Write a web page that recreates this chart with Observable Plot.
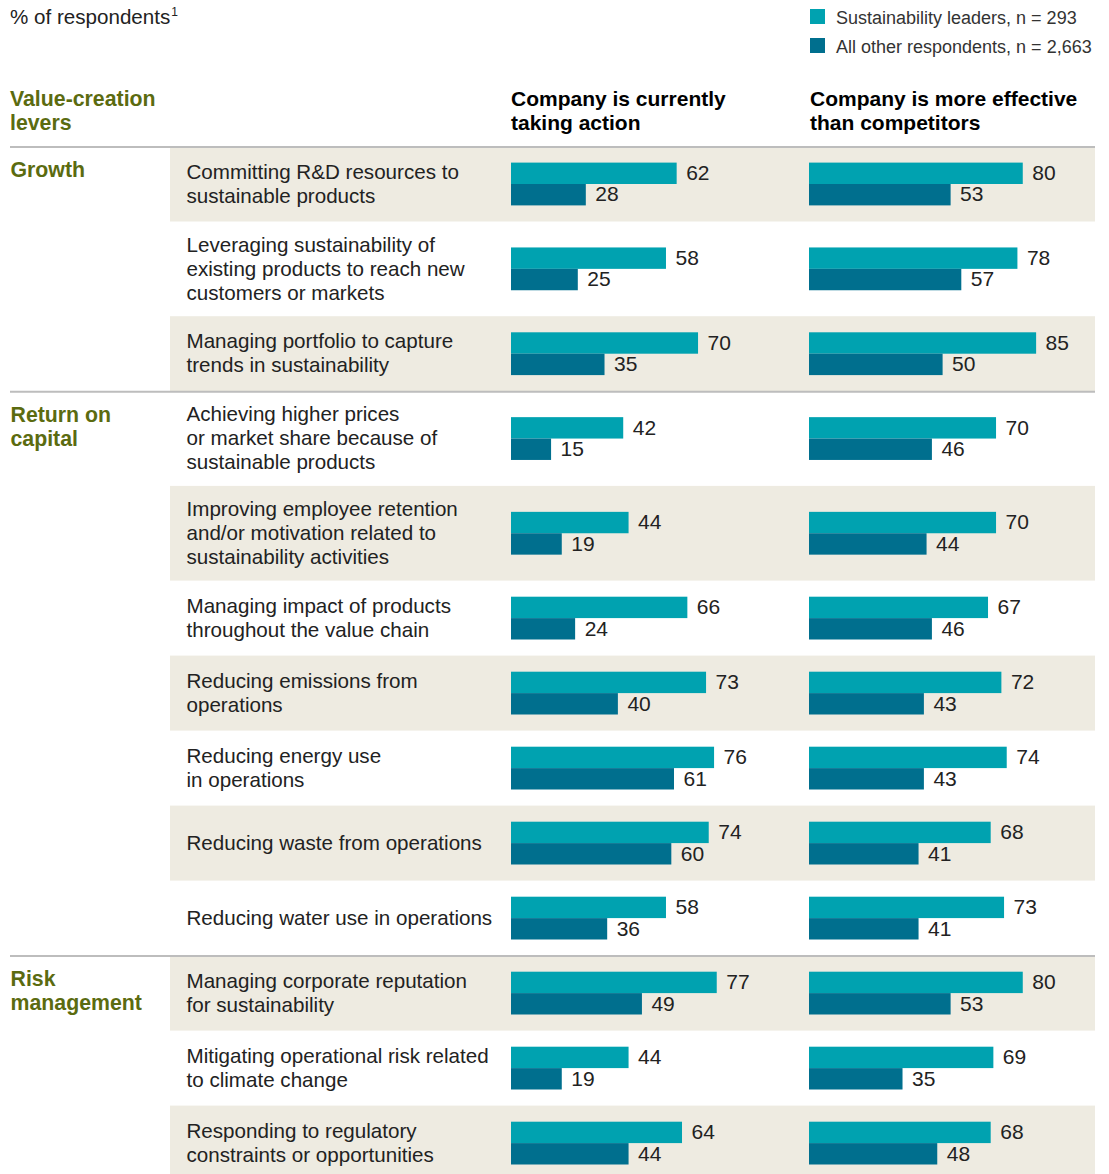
<!DOCTYPE html>
<html>
<head>
<meta charset="utf-8">
<script src="https://cdn.jsdelivr.net/npm/d3@7"></script>
<script src="https://cdn.jsdelivr.net/npm/@observablehq/plot@0.6"></script>
<style>
  html, body { margin: 0; padding: 0; background: #fff; }
  body { width: 1109px; font-family: "Helvetica Neue", Helvetica, "Liberation Sans", Arial, sans-serif; color: #222; }
  #head { position: relative; width: 1109px; height: 146px; }
  #head div { position: absolute; white-space: nowrap; }
  .unit { left: 10px; top: 5px; font-size: 20.6px; line-height: 24px; color: #222; }
  .unit sup { font-size: 12px; vertical-align: 0; position: relative; top: -8px; margin-left: 1px; }
  .lev { left: 10px; top: 87px; font-size: 21.3px; line-height: 24px; font-weight: bold; color: #5b6b10; }
  .col { top: 87px; font-size: 21px; line-height: 24px; font-weight: bold; color: #000; }
  .sw { width: 15px; height: 15px; }
  .lt { font-size: 18px; line-height: 24px; color: #333; }
  #chart svg { display: block; }
</style>
</head>
<body>
<div id="head"></div>
<div id="chart"></div>
<script>
// ---- data ----
const levers = [
  "Committing R&D resources to\nsustainable products",
  "Leveraging sustainability of\nexisting products to reach new\ncustomers or markets",
  "Managing portfolio to capture\ntrends in sustainability",
  "Achieving higher prices\nor market share because of\nsustainable products",
  "Improving employee retention\nand/or motivation related to\nsustainability activities",
  "Managing impact of products\nthroughout the value chain",
  "Reducing emissions from\noperations",
  "Reducing energy use\nin operations",
  "Reducing waste from operations",
  "Reducing water use in operations",
  "Managing corporate reputation\nfor sustainability",
  "Mitigating operational risk related\nto climate change",
  "Responding to regulatory\nconstraints or opportunities"
];
const groupNames = ["Growth", "Return on\ncapital", "Risk\nmanagement"];
const groupOfLever = [0, 0, 0, 1, 1, 1, 1, 1, 1, 1, 2, 2, 2];
const leadersAction    = [62, 58, 70, 42, 44, 66, 73, 76, 74, 58, 77, 44, 64];
const othersAction     = [28, 25, 35, 15, 19, 24, 40, 61, 60, 36, 49, 19, 44];
const leadersEffective = [80, 78, 85, 70, 70, 67, 72, 74, 68, 73, 80, 69, 68];
const othersEffective  = [53, 57, 50, 46, 44, 46, 43, 43, 41, 41, 53, 35, 48];
const columnTitles = ["Company is currently\ntaking action", "Company is more effective\nthan competitors"];
const seriesNames = ["Sustainability leaders, n = 293", "All other respondents, n = 2,663"];
const unitLabel = "% of respondents";
const leverHeader = "Value-creation\nlevers";

// ---- style ----
const TEAL = "#00a2b0";
const DARK = "#006f8e";
const BG = "#eeebe1";
const FONT = '"Helvetica Neue", Helvetica, "Liberation Sans", Arial, sans-serif';
const PX_PER_UNIT = 2.672;           // px per percentage point
const X0 = 511;                       // left panel start
const PANEL2 = (809 - 511) / PX_PER_UNIT; // offset of second panel, in % units
const BAR = 21.4;

// ---- header (HTML) ----
const head = document.getElementById("head");
head.innerHTML = `
  <div class="unit">${unitLabel}<sup>1</sup></div>
  <div class="sw" style="left:810px;top:9px;background:${TEAL}"></div>
  <div class="lt" style="left:836px;top:6px">${seriesNames[0]}</div>
  <div class="sw" style="left:810px;top:38px;background:${DARK}"></div>
  <div class="lt" style="left:836px;top:35px">${seriesNames[1]}</div>
  <div class="lev">${leverHeader.replace("\n", "<br>")}</div>
  <div class="col" style="left:511px">${columnTitles[0].replace("\n", "<br>")}</div>
  <div class="col" style="left:810px">${columnTitles[1].replace("\n", "<br>")}</div>
`;

// ---- row layout derived from label line counts ----
let acc = 0;
const rows = levers.map((label, i) => {
  const lines = label.split("\n").length;
  const h = lines >= 3 ? 94.7 : 75;
  const r = {i, label, top: acc, bottom: acc + h, mid: acc + h / 2, group: groupOfLever[i], shaded: i % 2 === 0};
  acc += h;
  return r;
});
const total = acc;
const groupStarts = groupNames.map((name, g) => {
  const first = rows.find(r => r.group === g);
  return {name, top: first.top};
});

const bars = [];
rows.forEach(r => {
  bars.push({x1: 0, v: leadersAction[r.i], y1: r.mid - BAR, y2: r.mid, fill: TEAL});
  bars.push({x1: 0, v: othersAction[r.i], y1: r.mid, y2: r.mid + BAR, fill: DARK});
  bars.push({x1: PANEL2, v: leadersEffective[r.i], y1: r.mid - BAR, y2: r.mid, fill: TEAL});
  bars.push({x1: PANEL2, v: othersEffective[r.i], y1: r.mid, y2: r.mid + BAR, fill: DARK});
});

const chart = Plot.plot({
  width: 1109,
  height: 1028,
  marginLeft: 170,
  marginRight: 14,
  marginTop: 0,
  marginBottom: 0,
  style: {fontFamily: FONT, fontSize: "21px", background: "white", overflow: "hidden"},
  x: {type: "linear", domain: [0, 100], range: [X0, X0 + 100 * PX_PER_UNIT], axis: null},
  y: {type: "linear", domain: [0, total], range: [0.5, 0.5 + total], axis: null},
  marks: [
    Plot.rect(rows.filter(r => r.shaded), {y1: "top", y2: "bottom", fill: BG}),
    Plot.ruleY(groupStarts, {y: "top", stroke: "#bdbdbd", strokeWidth: 2, insetLeft: -160}),
    Plot.text(groupStarts, {y: "top", text: "name", frameAnchor: "left", dx: -160, dy: 13,
      textAnchor: "start", lineAnchor: "top", lineHeight: 24 / 21.3, fontSize: 21.3, fontWeight: "bold", fill: "#5b6b10"}),
    Plot.text(rows, {y: "mid", text: "label", frameAnchor: "left", dx: 16, dy: -1.5,
      textAnchor: "start", lineAnchor: "middle", lineHeight: 24 / 20.6, fontSize: 20.6, fill: "#222"}),
    Plot.rect(bars, {x1: "x1", x2: d => d.x1 + d.v, y1: "y1", y2: "y2", fill: "fill"}),
    Plot.text(bars, {x: d => d.x1 + d.v, y: d => (d.y1 + d.y2) / 2, text: d => String(d.v),
      dx: 9, dy: -0.5, textAnchor: "start", lineAnchor: "middle", fontSize: 21, fill: "#222"})
  ]
});
document.getElementById("chart").appendChild(chart);
</script>
</body>
</html>
